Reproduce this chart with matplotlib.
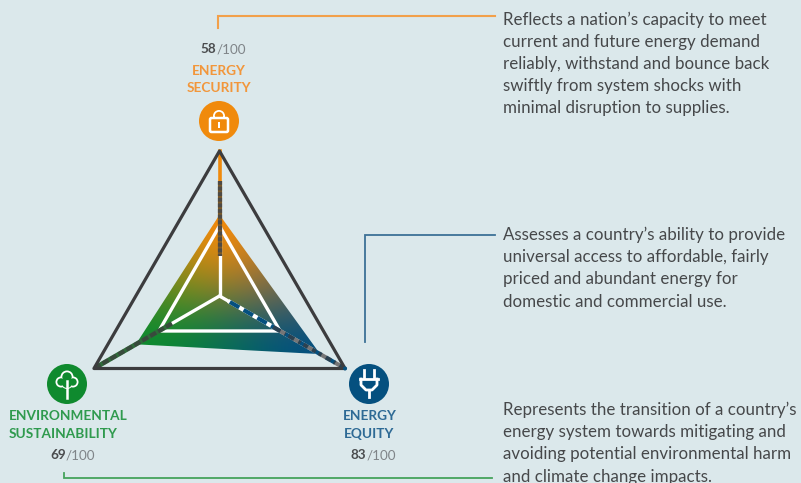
import numpy as np
import matplotlib
matplotlib.use("Agg")
import matplotlib.pyplot as plt
from matplotlib.patches import Circle, Polygon, Rectangle, Wedge, FancyBboxPatch

# scores
pillars = [["ENERGY", "SECURITY"], ["ENERGY", "EQUITY"], ["ENVIRONMENTAL", "SUSTAINABILITY"]]
scores = [58, 83, 69]
score_max = 100
ring_level = 50
pillar_colors = ["#F08A0C", "#05507F", "#0F8A2E"]

descriptions = [
    ["Reflects a nation\u2019s capacity to meet", "current and future energy demand",
     "reliably, withstand and bounce back", "swiftly from system shocks with",
     "minimal disruption to supplies."],
    ["Assesses a country\u2019s ability to provide", "universal access to affordable, fairly",
     "priced and abundant energy for", "domestic and commercial use."],
    ["Represents the transition of a country\u2019s", "energy system towards mitigating and",
     "avoiding potential environmental harm", "and climate change impacts."],
]

BG = "#DBE8EB"
DARK = "#3C3C3E"
GREY = "#7F8488"

plt.rcParams['font.family'] = ['Lato', 'DejaVu Sans']

fig = plt.figure(figsize=(8.01, 4.83), dpi=100, facecolor=BG)
ax = fig.add_axes([0, 0, 1, 1])
ax.set_xlim(0, 801)
ax.set_ylim(483, 0)
ax.axis('off')

# radar geometry, axes at top, lower right, lower left
cx, cy = 219.5, 296
angles = np.radians([90, -30, 210])
outer_r = 145
score_scale = 1.4


def radar_pt(i, r):
    return np.array([cx + r * np.cos(angles[i]), cy - r * np.sin(angles[i])])


outer = [radar_pt(i, outer_r) for i in range(3)]
poly = np.array([radar_pt(i, s * score_scale) for i, s in enumerate(scores)])
ring = [radar_pt(i, ring_level * score_scale) for i in range(3)]

# gradient fill of score triangle, blended between the three pillar colours
xs = np.arange(80, 360)
ys = np.arange(140, 380)
gx, gy = np.meshgrid(xs + 0.5, ys + 0.5)
T = np.array([[poly[0][0] - poly[2][0], poly[1][0] - poly[2][0]],
              [poly[0][1] - poly[2][1], poly[1][1] - poly[2][1]]])
Ti = np.linalg.inv(T)
l0 = Ti[0, 0] * (gx - poly[2][0]) + Ti[0, 1] * (gy - poly[2][1])
l1 = Ti[1, 0] * (gx - poly[2][0]) + Ti[1, 1] * (gy - poly[2][1])
l2 = 1 - l0 - l1
w = np.clip(np.dstack([l0, l1, l2]), 0, 1) ** 1.5
w = w / w.sum(axis=2, keepdims=True)
rgb = np.array([matplotlib.colors.to_rgb(c) for c in pillar_colors])
img = w @ rgb
im = ax.imshow(img, extent=(80, 360, 380, 140), zorder=1, interpolation='bilinear', aspect='auto')
clip = Polygon(poly, closed=True, transform=ax.transData, fc='none', ec='none')
ax.add_patch(clip)
im.set_clip_path(clip)
ax.set_xlim(0, 801)
ax.set_ylim(483, 0)

# white ring + spokes
ax.add_patch(Polygon(ring, closed=True, fc='none', ec='white', lw=2.4, joinstyle='miter', zorder=3))
for i in range(3):
    ax.plot([cx, ring[i][0]], [cy, ring[i][1]], color='white', lw=2.4, zorder=3, solid_capstyle='round')

# top axis: orange line, brown dashed stretch
ax.plot([outer[0][0], outer[0][0]], [outer[0][1], cy - 60], color=pillar_colors[0], lw=2.6, zorder=2)
ax.plot([cx, cx], [181, 256], color="#7A5A2A", lw=3.0, zorder=4, solid_capstyle='butt')
ax.plot([cx, cx], [181, 256], color="#4E4A44", lw=3.0, ls=(0, (0.9, 0.45)), zorder=5)

# right axis: blue/white dashes, darker towards the vertex
a = radar_pt(1, 12)
b = radar_pt(1, outer_r - 2)
ax.plot([a[0], b[0]], [a[1], b[1]], color='white', lw=3.0, zorder=4)
ax.plot([a[0], b[0]], [a[1], b[1]], color=pillar_colors[1], lw=3.0, ls=(0, (2.6, 1.2)), zorder=5)
a = radar_pt(1, 62)
ax.plot([a[0], b[0]], [a[1], b[1]], color=DARK, lw=3.0, ls=(0, (3.4, 0.8)), alpha=0.7, zorder=5)

# left axis: dark dashes over green
a = radar_pt(2, 55)
b = radar_pt(2, outer_r - 2)
ax.plot([a[0], b[0]], [a[1], b[1]], color="#2F6B3A", lw=3.4, zorder=4, solid_capstyle='butt')
ax.plot([a[0], b[0]], [a[1], b[1]], color=DARK, lw=3.0, ls=(0, (1.6, 0.6)), alpha=0.7, zorder=5)

ax.add_patch(Polygon(outer, closed=True, fc='none', ec=DARK, lw=2.3, joinstyle='round', zorder=6))
ax.add_patch(Circle(outer[1], 2, fc=pillar_colors[1], ec='none', zorder=7))

# leader lines
ax.plot([218, 218, 495], [28, 16, 16], color="#F2A04A", lw=1.5, solid_joinstyle='miter')
ax.plot([365, 365, 495], [342, 235, 235], color="#3C7196", lw=1.3, solid_joinstyle='miter')
ax.plot([64, 64, 492], [473, 478, 478], color="#45A35C", lw=1.3, solid_joinstyle='miter')

# icon discs
icon_pos = [(219, 121), (369, 384), (67, 384)]
for (x, y), c in zip(icon_pos, pillar_colors):
    ax.add_patch(Circle((x, y), 20, fc=c, ec='none', zorder=5))

# lock
x, y = icon_pos[0]
ax.add_patch(FancyBboxPatch((x - 9, y - 3), 18, 14, boxstyle="round,pad=0,rounding_size=1.5",
                            fc='none', ec='white', lw=1.8, zorder=6))
ax.add_patch(Wedge((x, y - 5), 6, 180, 360, width=1.8, fc='white', ec='none', zorder=6))
ax.add_patch(Rectangle((x - 6, y - 5), 1.8, 2, fc='white', ec='none', zorder=6))
ax.add_patch(Rectangle((x + 4.2, y - 5), 1.8, 2, fc='white', ec='none', zorder=6))
ax.add_patch(Rectangle((x - 1.3, y + 1), 2.6, 6, fc='white', ec='none', zorder=6))

# plug
x, y = icon_pos[1]
ax.plot([x - 5, x - 5], [y - 14, y - 6], color='white', lw=2, zorder=6)
ax.plot([x + 5, x + 5], [y - 14, y - 6], color='white', lw=2, zorder=6)
ax.plot([x - 9, x + 9], [y - 5, y - 5], color='white', lw=2, zorder=6)
ax.plot([x - 8, x - 8, x - 3, x + 3, x + 8, x + 8], [y - 5, y + 1, y + 6, y + 6, y + 1, y - 5],
        color='white', lw=2, zorder=6)
ax.plot([x, x], [y + 6, y + 13], color='white', lw=2, zorder=6)

# tree
x, y = icon_pos[2]
for dx, dy, r in [(0, -7, 6.5), (-6, -2, 5.5), (6, -2, 5.5), (0, -1, 6)]:
    ax.add_patch(Circle((x + dx, y + dy), r, fc='white', ec='none', zorder=6))
for dx, dy, r in [(0, -7, 4.7), (-6, -2, 3.7), (6, -2, 3.7), (0, -1, 5)]:
    ax.add_patch(Circle((x + dx, y + dy), r, fc=pillar_colors[2], ec='none', zorder=6))
ax.plot([x, x], [y - 3, y + 14], color='white', lw=1.8, zorder=7)

# pillar labels, the environmental one is left aligned
label_pos = [(219, 71), (369.5, 416), (8.5, 416)]
label_align = ['center', 'center', 'left']
label_colors = ["#F2963A", "#2E6A95", "#2F9A4E"]
for (x, y), lines, c, ha in zip(label_pos, pillars, label_colors, label_align):
    for j, line in enumerate(lines):
        ax.text(x, y + j * 17.5, line, ha=ha, va='center', fontsize=9.8, fontweight='bold', color=c)

# score labels
score_pos = [(216.5, 49), (366.5, 455), (66, 455)]
for (x, y), s in zip(score_pos, scores):
    ax.text(x, y, str(s), ha='right', va='center', fontsize=9.7, fontweight='bold', color="#4A4C4E")
    ax.text(x, y, "/%d" % score_max, ha='left', va='center', fontsize=9.7, color=GREY)

# descriptions
desc_y = [19.5, 235, 410]
for y0, lines in zip(desc_y, descriptions):
    for j, line in enumerate(lines):
        ax.text(503, y0 + j * 22.2, line, ha='left', va='center', fontsize=12.2, color="#46484A")

fig.savefig("out.png", dpi=100, facecolor=BG)
